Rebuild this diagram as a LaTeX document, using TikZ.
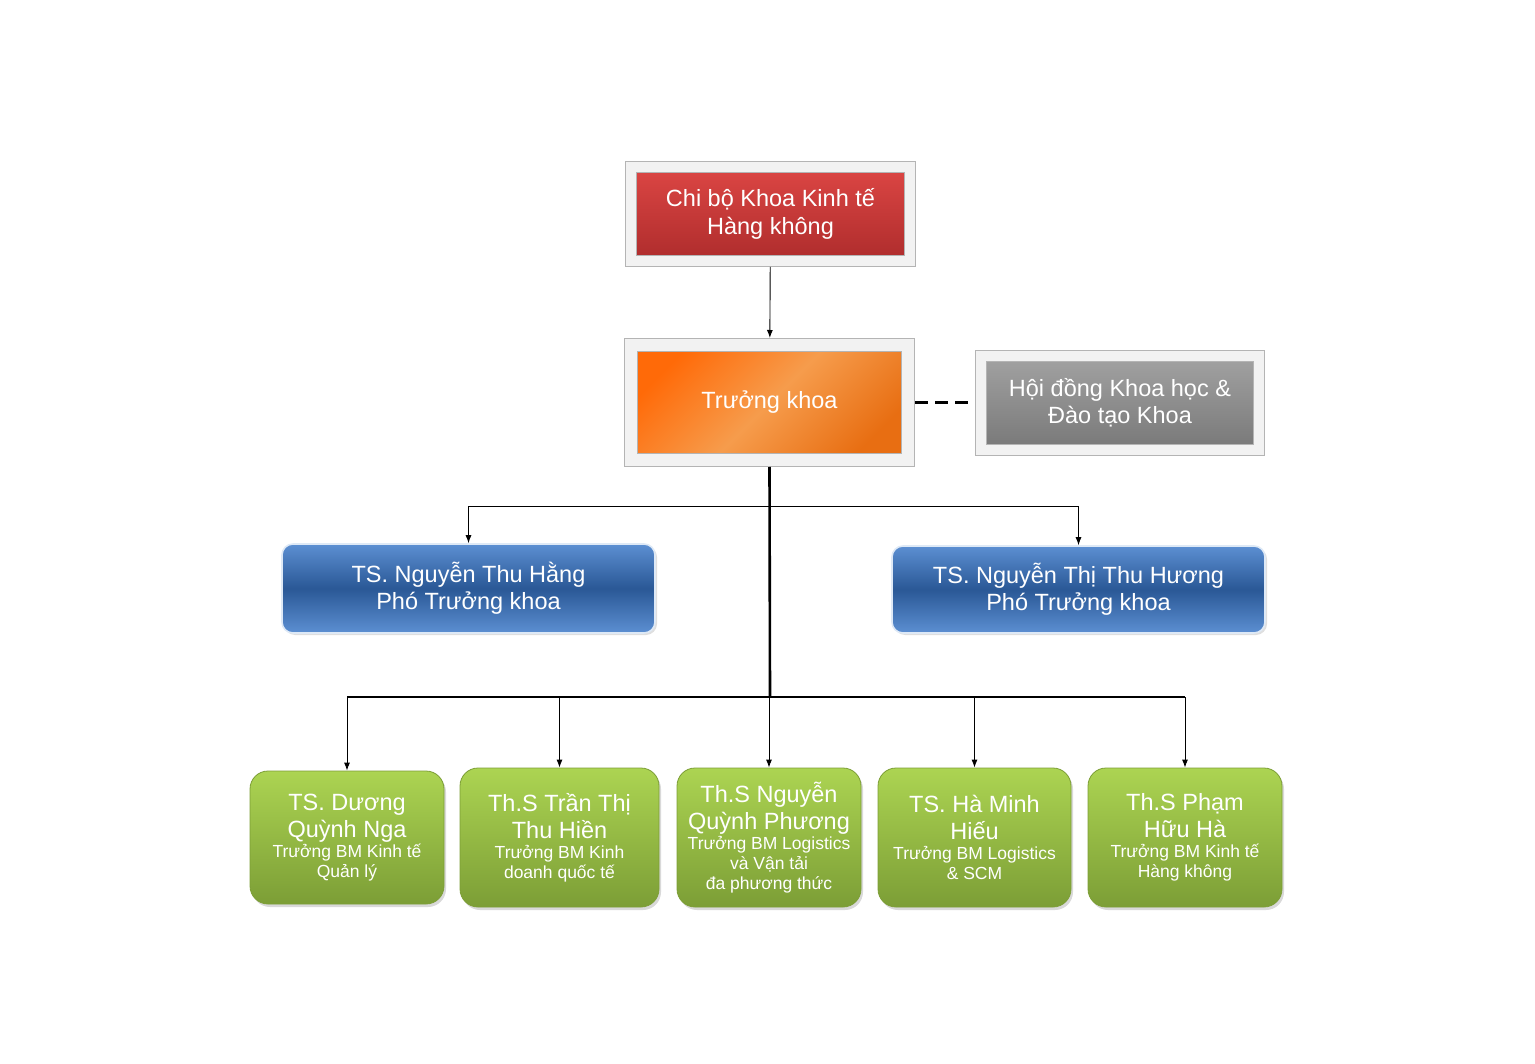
\documentclass[tikz,border=0pt]{standalone}
\usepackage{fontspec}
\setmainfont{Liberation Sans}
\usetikzlibrary{arrows.meta,shadows}

\definecolor{redTop}{RGB}{220,70,68}
\definecolor{redBot}{RGB}{174,44,44}
\definecolor{orTop}{RGB}{255,106,8}
\definecolor{orMid}{RGB}{246,156,76}
\definecolor{orBot}{RGB}{232,110,18}
\definecolor{grTop}{RGB}{162,162,162}
\definecolor{grBot}{RGB}{120,120,120}
\definecolor{blLight}{RGB}{92,143,210}
\definecolor{blDark}{RGB}{42,88,150}
\definecolor{gnTop}{RGB}{172,212,82}
\definecolor{gnBot}{RGB}{124,158,54}
\definecolor{frameLine}{RGB}{180,180,180}

\newcommand{\bmrole}[1]{\par{\fontsize{17.5}{20}\selectfont #1\par}}

\begin{document}
\begin{tikzpicture}[x=1pt,y=1pt,yscale=-1,xscale=1,
  framebox/.style={draw=frameLine, line width=0.8pt, double=white!95!black,
    double distance=10.4pt, outer sep=6pt, inner sep=0pt, text=white,
    align=flush center, font=\fontsize{23.5}{27.5}\selectfont,
    drop shadow={shadow xshift=3pt, shadow yshift=-3pt, opacity=0.15}},
  vicebox/.style={rounded corners=11pt, draw=white!80!blLight, line width=1.6pt,
    top color=blLight, bottom color=blLight, middle color=blDark,
    drop shadow={shadow xshift=2pt, shadow yshift=-2pt, opacity=0.25},
    minimum width=373pt, inner sep=0pt, text=white, align=flush center,
    font=\fontsize{23.5}{27}\selectfont},
  deptbox/.style={rounded corners=18pt, draw=gnBot, line width=0.8pt,
    top color=gnTop, bottom color=gnBot,
    drop shadow={shadow xshift=2pt, shadow yshift=-3pt, opacity=0.3},
    inner sep=0pt, text=white, align=flush center, font=\fontsize{23.5}{27}\selectfont},
  link/.style={draw=black, line width=0.9pt, -{Latex[length=8pt,width=6pt]}},
  trunk/.style={line width=2.6pt},
  bus/.style={line width=1.4pt},
  dashline/.style={line width=2.6pt, dash pattern=on 13pt off 7pt}]
\useasboundingbox (0,0) rectangle (1535,1064);

%Shape: Rectangle [chi bo]
\node [framebox, top color=redTop, bottom color=redBot, minimum width=279pt, minimum height=94pt] (chibo) at (770.5,214) {Chi bộ Khoa Kinh tế\\Hàng không};
%Shape: Rectangle [truong khoa]
\node [framebox, double distance=12pt, outer sep=7pt, top color=orTop, bottom color=orBot, middle color=orMid, shading angle=45, minimum width=277pt, minimum height=115pt] (truongkhoa) at (769.5,402.5) {Trưởng khoa};
%Shape: Rectangle [hoi dong]
\node [framebox, top color=grTop, bottom color=grBot, minimum width=278pt, minimum height=94pt] (hoidong) at (1120,403) {Hội đồng Khoa học \&\\Đào tạo Khoa};

%Shape: Rounded Rect [pho truong khoa]
\node [vicebox, minimum height=89pt] (pho1) at (468.5,588.5) {TS. Nguyễn Thu Hằng\\Phó Trưởng khoa};
\node [vicebox, minimum height=87pt] (pho2) at (1078.5,589.5) {TS. Nguyễn Thị Thu Hương\\Phó Trưởng khoa};

%Shape: Rounded Rect [bo mon]
\node [deptbox, minimum width=194pt, minimum height=133pt, text width=186pt] (bm1) at (347,837.5) {TS. Dương\\Quỳnh Nga\bmrole{Trưởng BM Kinh tế\\Quản lý}};
\node [deptbox, minimum width=199pt, minimum height=139pt, text width=190pt] (bm2) at (559.5,837.5) {Th.S Trần Thị\\Thu Hiền\bmrole{Trưởng BM Kinh\\doanh quốc tế}};
\node [deptbox, minimum width=184pt, minimum height=139pt, text width=178pt] (bm3) at (769,837.5) {Th.S Nguyễn\\Quỳnh Phương\bmrole{Trưởng BM Logistics\\và Vận tải\\đa phương thức}};
\node [deptbox, minimum width=193pt, minimum height=139pt, text width=186pt] (bm4) at (974.5,837.5) {TS. Hà Minh\\Hiếu\bmrole{Trưởng BM Logistics\\\& SCM}};
\node [deptbox, minimum width=194pt, minimum height=139pt, text width=186pt] (bm5) at (1185,837.5) {Th.S Phạm\\Hữu Hà\bmrole{Trưởng BM Kinh tế\\Hàng không}};

%Straight Lines
\coordinate (busA) at (770,506);
\coordinate (busB) at (770,697);
\draw [link] (chibo) -- (truongkhoa);
\draw [dashline] (truongkhoa.east) -- (truongkhoa.east -| hoidong.west);
\draw [trunk] (truongkhoa.south) -- (busB);
\draw [link] (busA) -| (pho1.north);
\draw [link] (busA) -| (pho2.north);
\draw [bus] (bm1.north |- busB) -- (bm5.north |- busB);
\foreach \bm in {bm1,bm2,bm3,bm4,bm5}
  \draw [link] (\bm.north |- busB) -- (\bm.north);

\end{tikzpicture}
\end{document}
